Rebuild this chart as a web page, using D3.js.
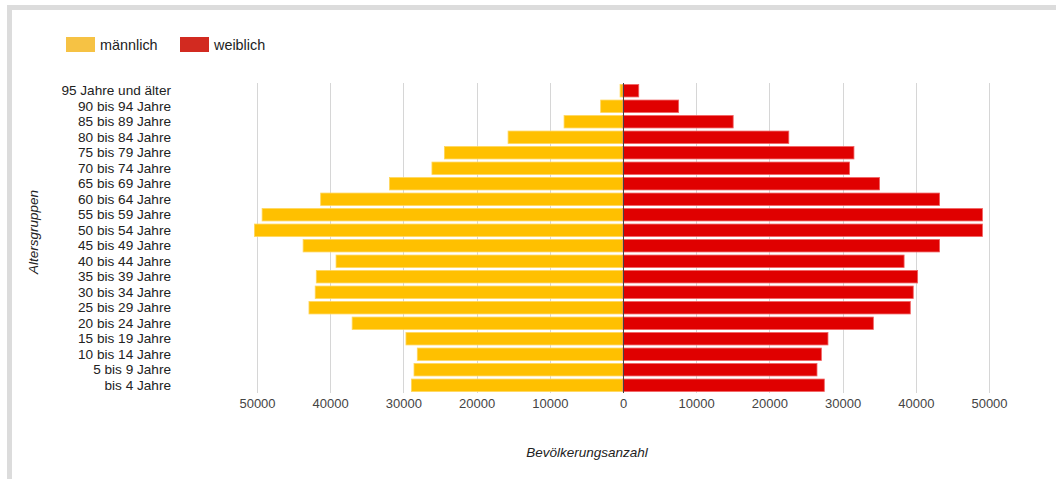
<!DOCTYPE html>
<html>
<head>
<meta charset="utf-8">
<script src="https://cdn.jsdelivr.net/npm/d3@7"></script>
<style>
  body { margin: 0; background: #fff; }
  text { font-family: "Liberation Sans", Arial, sans-serif; }
</style>
</head>
<body>
<svg id="chart" width="1056" height="479"></svg>
<script>
'use strict';

// age groups, top to bottom
const ageGroups = [
  "95 Jahre und älter", "90 bis 94 Jahre", "85 bis 89 Jahre", "80 bis 84 Jahre",
  "75 bis 79 Jahre", "70 bis 74 Jahre", "65 bis 69 Jahre", "60 bis 64 Jahre",
  "55 bis 59 Jahre", "50 bis 54 Jahre", "45 bis 49 Jahre", "40 bis 44 Jahre",
  "35 bis 39 Jahre", "30 bis 34 Jahre", "25 bis 29 Jahre", "20 bis 24 Jahre",
  "15 bis 19 Jahre", "10 bis 14 Jahre", "5 bis 9 Jahre", "bis 4 Jahre"
];
const maleValues = [
  400, 3050, 8050, 15700, 24400, 26100, 31900, 41300, 49300, 50350,
  43700, 39200, 41900, 42050, 42900, 37000, 29650, 28100, 28550, 28900
];
const femaleValues = [
  2150, 7600, 15050, 22650, 31550, 30950, 35050, 43250, 49100, 49100,
  43250, 38400, 40250, 39650, 39250, 34200, 28000, 27100, 26500, 27500
];
const seriesNames = ["männlich", "weiblich"];
const tickValues = [-50000, -40000, -30000, -20000, -10000, 0, 10000, 20000, 30000, 40000, 50000];
const axisTitleX = "Bevölkerungsanzahl";
const axisTitleY = "Altersgruppen";

const svg = d3.select("#chart");

// frame
svg.append("rect").attr("x", 7).attr("y", 5).attr("width", 1049).attr("height", 5).attr("fill", "#dcdcdc");
svg.append("rect").attr("x", 7).attr("y", 5).attr("width", 5).attr("height", 474).attr("fill", "#dcdcdc");

const plotTop = 83, plotBottom = 393;

const xScale = d3.scaleLinear()
  .domain([-50000, 50000])
  .range([257, 989]);

const yScale = d3.scaleBand()
  .domain(ageGroups)
  .range([plotTop, plotBottom])
  .paddingInner(0.2)
  .paddingOuter(0.1);

// gridlines
svg.append("g")
  .selectAll("line")
  .data(tickValues.filter(d => d !== 0))
  .enter().append("line")
    .attr("x1", d => Math.round(xScale(d)) + 0.5)
    .attr("x2", d => Math.round(xScale(d)) + 0.5)
    .attr("y1", plotTop)
    .attr("y2", plotBottom)
    .attr("stroke", "#d6d6d6")
    .attr("stroke-width", 1);

const colors = { male: "#ffc000", female: "#e00000" };

// male bars (left)
svg.append("g")
  .selectAll("rect")
  .data(ageGroups)
  .enter().append("rect")
    .attr("x", (d, i) => xScale(-maleValues[i]))
    .attr("y", d => yScale(d))
    .attr("width", (d, i) => xScale(0) - xScale(-maleValues[i]))
    .attr("height", yScale.bandwidth())
    .attr("fill", colors.male)
    .attr("stroke", "#ffd65c")
    .attr("stroke-width", 0.8);

// female bars (right)
svg.append("g")
  .selectAll("rect")
  .data(ageGroups)
  .enter().append("rect")
    .attr("x", xScale(0))
    .attr("y", d => yScale(d))
    .attr("width", (d, i) => xScale(femaleValues[i]) - xScale(0))
    .attr("height", yScale.bandwidth())
    .attr("fill", colors.female)
    .attr("stroke", "#f06060")
    .attr("stroke-width", 0.8);

// zero baseline
svg.append("line")
  .attr("x1", Math.round(xScale(0)) + 0.5)
  .attr("x2", Math.round(xScale(0)) + 0.5)
  .attr("y1", plotTop)
  .attr("y2", plotBottom)
  .attr("stroke", "#444")
  .attr("stroke-width", 1);

// x axis labels
const xAxis = d3.axisBottom(xScale)
  .tickValues(tickValues)
  .tickSize(0)
  .tickPadding(0)
  .tickFormat(d => Math.abs(d));

svg.append("g")
  .attr("transform", `translate(0, 399)`)
  .call(xAxis)
  .call(g => g.select(".domain").remove())
  .selectAll("text")
    .attr("font-family", '"Liberation Sans", Arial, sans-serif')
    .attr("font-size", 13)
    .attr("fill", "#444");

// y axis labels
const yAxis = d3.axisLeft(yScale).tickSize(0).tickPadding(0);
svg.append("g")
  .attr("transform", `translate(171, 0)`)
  .call(yAxis)
  .call(g => g.select(".domain").remove())
  .selectAll("text")
    .attr("font-family", '"Liberation Sans", Arial, sans-serif')
    .attr("font-size", 13.6)
    .attr("fill", "#222");

// axis titles
svg.append("text")
  .attr("x", 587)
  .attr("y", 457)
  .attr("text-anchor", "middle")
  .attr("font-size", 13.5)
  .attr("font-style", "italic")
  .attr("fill", "#222")
  .text(axisTitleX);

svg.append("text")
  .attr("transform", "translate(38, 232) rotate(-90)")
  .attr("text-anchor", "middle")
  .attr("font-size", 13.5)
  .attr("font-style", "italic")
  .attr("fill", "#222")
  .text(axisTitleY);

// legend
const legendItems = [
  { name: seriesNames[0], color: "#f6c244", x: 66 },
  { name: seriesNames[1], color: "#d22a20", x: 180 }
];
const legend = svg.append("g")
  .selectAll("g")
  .data(legendItems)
  .enter().append("g")
    .attr("transform", d => `translate(${d.x}, 37)`);
legend.append("rect")
  .attr("width", 29)
  .attr("height", 15)
  .attr("fill", d => d.color);
legend.append("text")
  .attr("x", 34)
  .attr("y", 12.5)
  .attr("font-size", 14.4)
  .attr("fill", "#222")
  .text(d => d.name);
</script>
</body>
</html>
